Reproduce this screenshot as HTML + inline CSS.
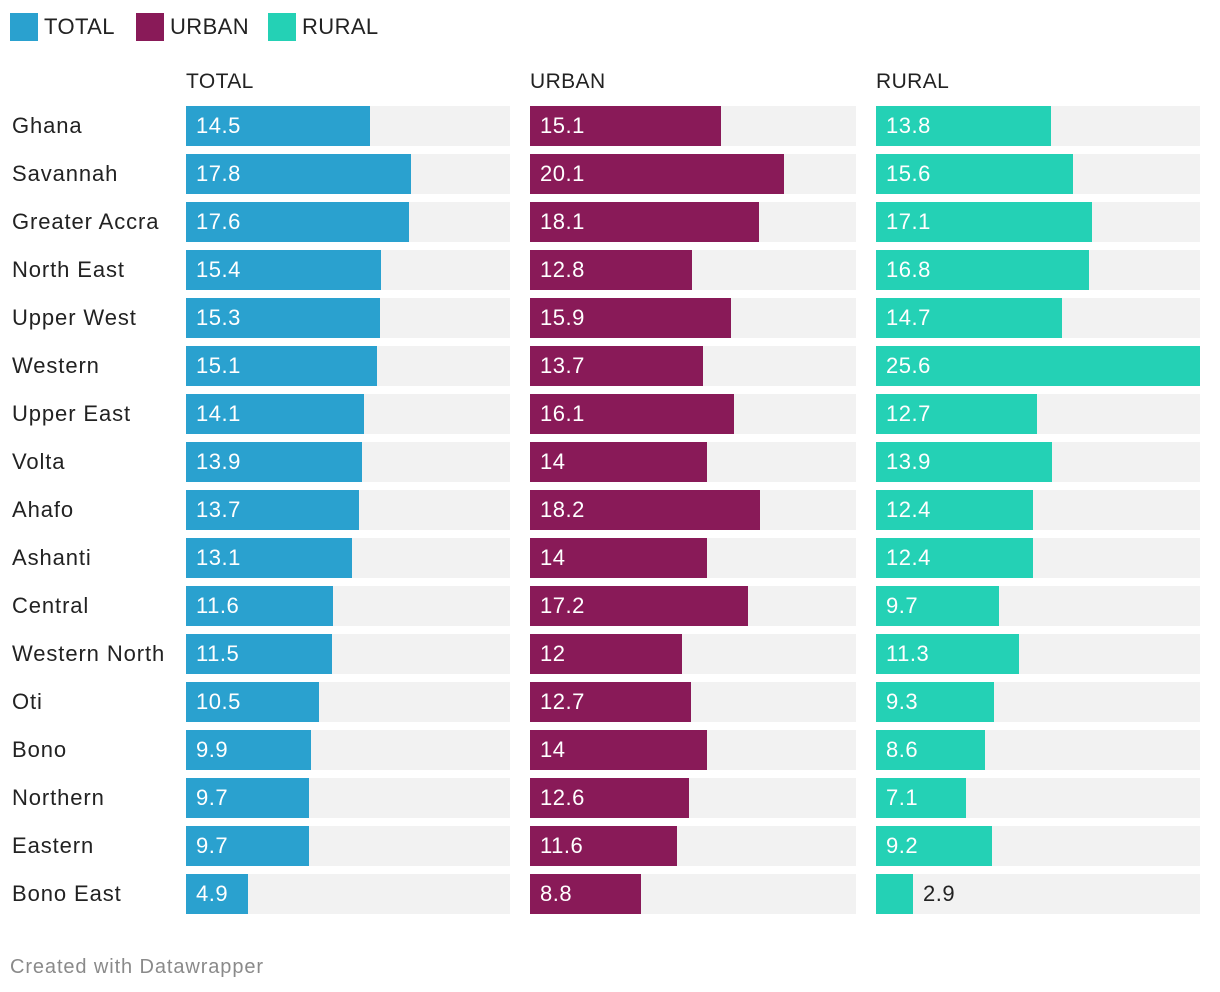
<!DOCTYPE html>
<html><head><meta charset="utf-8">
<style>
body{margin:0;background:#fff;width:1220px;height:992px;overflow:hidden;font-family:"Liberation Sans",sans-serif;position:relative}
.a{position:absolute;white-space:nowrap}
</style></head>
<body>
<div id="root"></div>
<script>
const regions=["Ghana","Savannah","Greater Accra","North East","Upper West","Western","Upper East","Volta","Ahafo","Ashanti","Central","Western North","Oti","Bono","Northern","Eastern","Bono East"];
const totalVals=[14.5,17.8,17.6,15.4,15.3,15.1,14.1,13.9,13.7,13.1,11.6,11.5,10.5,9.9,9.7,9.7,4.9];
const urbanVals=[15.1,20.1,18.1,12.8,15.9,13.7,16.1,14,18.2,14,17.2,12,12.7,14,12.6,11.6,8.8];
const ruralVals=[13.8,15.6,17.1,16.8,14.7,25.6,12.7,13.9,12.4,12.4,9.7,11.3,9.3,8.6,7.1,9.2,2.9];
const seriesNames=["TOTAL","URBAN","RURAL"];
const colors=["#2aa1cf","#891a58","#24d1b5"];
const panels=[{x:186,w:324,v:totalVals},{x:530,w:326,v:urbanVals},{x:876,w:324,v:ruralVals}];
const maxV=Math.max(...totalVals,...urbanVals,...ruralVals);
const root=document.getElementById('root');
function mk(css,txt){const d=document.createElement('div');d.className='a';d.style.cssText=css;if(txt!==undefined)d.textContent=txt;root.appendChild(d);return d;}
let lx=10;
seriesNames.forEach((n,i)=>{
  const sw=mk(`left:${lx}px;top:13px;width:28px;height:28px;background:${colors[i]}`);
  
  
  const t=mk(`left:${lx+34}px;top:13px;font-size:22px;line-height:28px;color:#222;letter-spacing:0.4px`,n);
  
  
  lx+= [126,132,0][i];
});
panels.forEach((p,i)=>{
  const h=mk(`left:${p.x}px;top:68px;font-size:21px;line-height:28px;color:#222;letter-spacing:0.4px`,seriesNames[i]);
  
  
});
const y0=106,pitch=48,bh=40;
regions.forEach((r,ri)=>{
  const y=y0+ri*pitch;
  const l=mk(`left:12px;top:${y}px;font-size:22px;line-height:${bh}px;color:#222;letter-spacing:0.9px`,r);
  
  
  panels.forEach((p,pi)=>{
    const tr=mk(`left:${p.x}px;top:${y}px;width:${p.w}px;height:${bh}px;background:#f2f2f2`);
    
    
    const val=p.v[ri];
    const w=Math.round(val/maxV*324);
    const b=mk(`left:${p.x}px;top:${y}px;width:${w}px;height:${bh}px;background:${colors[pi]}`);
    
    
    const inside=w>50;
    const t=mk(`left:${inside?p.x+10:p.x+w+10}px;top:${y}px;font-size:22px;line-height:${bh}px;color:${inside?'#fff':'#222'};letter-spacing:0.5px`,String(val));
    
    
  });
});
const f=mk(`left:10px;top:954px;font-size:20px;line-height:26px;color:#8a8a8a;letter-spacing:0.9px`,"Created with Datawrapper");


</script>
</body></html>
